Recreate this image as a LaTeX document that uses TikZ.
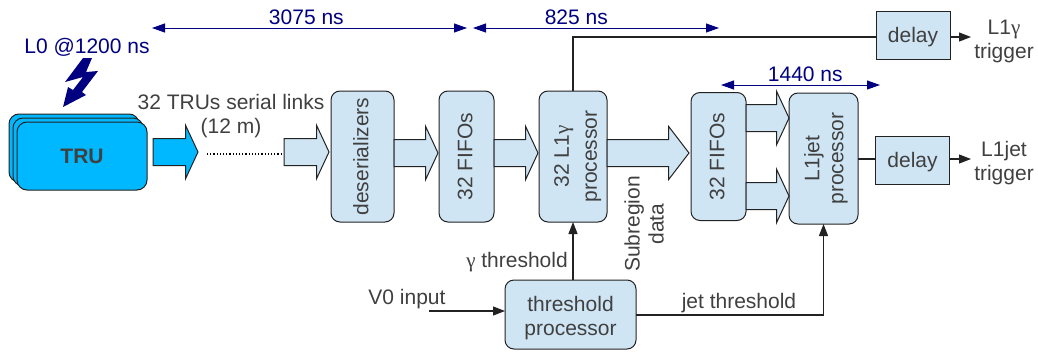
\documentclass[tikz,border=0pt]{standalone}
\usepackage{fontspec}
\setmainfont{Liberation Sans}
\newfontfamily\gammafont{Liberation Serif}
\usepackage{xcolor}
\usetikzlibrary{arrows.meta,positioning,shapes.arrows,calc}
\definecolor{boxblue}{HTML}{CFE5F4}
\definecolor{trublue}{HTML}{00B8FF}
\definecolor{timeblue}{HTML}{000080}
\definecolor{labelgray}{HTML}{404040}
\definecolor{edgegray}{HTML}{222222}
\newcommand{\vlabel}[1]{\rotatebox{90}{\begin{tabular}{@{}c@{}}#1\end{tabular}}}
\newcommand{\gam}{{\gammafont γ}}

\begin{document}
\begin{tikzpicture}[x=1pt, y=-1pt, >={Triangle[length=12pt,width=9pt]},
    font=\fontsize{21}{24}\selectfont, text=labelgray, align=center,
    block/.style={rectangle, rounded corners=9pt, draw=edgegray, line width=1pt, fill=boxblue,
        inner sep=0pt, outer sep=0pt},
    delaybox/.style={rectangle, draw=edgegray, line width=1pt, fill=boxblue, inner sep=0pt,
        outer sep=0pt, minimum width=74pt, minimum height=48pt},
    trubox/.style={rectangle, rounded corners=10pt, draw=edgegray, line width=1pt, fill=trublue,
        inner sep=0pt, outer sep=0pt, minimum width=130pt, minimum height=68pt},
    bus/.style={single arrow, draw=edgegray, line width=1pt, fill=boxblue, inner xsep=0pt, inner ysep=13pt,
        outer sep=0pt, single arrow head extend=13pt, single arrow head indent=0pt,
        single arrow tip angle=130},
    wire/.style={->, draw=edgegray, line width=1.2pt},
    timing/.style={<->, draw=timeblue, line width=1pt,
        >={Triangle[length=13pt,width=9pt]}},
    timetext/.style={text=timeblue, inner sep=3pt}]
    \useasboundingbox (0,0) rectangle (1038,351);

    % TRU stack
    \node[trubox] (tru3) at (74,148) {};
    \node[trubox] (tru2) at ($(tru3)+(4,4)$) {};
    \node[trubox] (tru1) at ($(tru2)+(4,4)$) {\textbf{TRU}};
    \node[bus, fill=trublue, minimum height=45pt, right=6pt of tru1, yshift=4pt] (link) {};
    \node[bus, minimum height=45pt, anchor=west] (linkend) at (284,152) {};
    \coordinate (dotsa) at (207,154);
    \coordinate (dotsb) at (281,154);
    \draw[dotted, line width=1.2pt, draw=black] (dotsa) -- (dotsb);
    \node (links) at (231,116) {32 TRUs serial links\\(12 m)};

    % L0 bolt
    \node[text=timeblue] (lzero) at (87,47) {L0 @1200 ns};
    \fill[timeblue] (83,58) -- (92,58) -- (86,72) -- (98,71) -- (82,92) -- (86,95)
        -- (63,107) -- (68,87) -- (73,90) -- (83,77) -- (65,82) -- cycle;

    % main row
    \node[block, minimum width=63pt, minimum height=131pt, anchor=west] (des) at (331,156.5) {\hspace{2pt}\vlabel{deserializers}};
    \node[block, minimum width=55pt, minimum height=131pt, right=45pt of des] (fifoa) {\hspace{2pt}\vlabel{32 FIFOs}};
    \node[block, minimum width=68pt, minimum height=131pt, right=45pt of fifoa] (gam) {\hspace{10pt}\vlabel{32 L1\gam\\[4pt]processor}};
    \node[block, minimum width=55pt, minimum height=128pt, right=84pt of gam] (fifob) {\hspace{2pt}\vlabel{32 FIFOs}};
    \node[block, minimum width=69pt, minimum height=131pt, anchor=west] (jet) at (789,158.5) {\hspace{6pt}\vlabel{L1jet\\processor}};
    \node[block, minimum width=131pt, minimum height=69pt] (thr) at (570.5,314.5) {\rule{0pt}{22pt}threshold\\processor};

    \node[bus, minimum height=44pt, right=0pt of des, yshift=3.5pt] (busa) {};
    \node[bus, minimum height=44pt, right=0pt of fifoa, yshift=3.5pt] (busb) {};
    \node[bus, minimum height=82pt, single arrow tip angle=105, right=0pt of gam, yshift=3.5pt] (busc) {};
    \node[bus, minimum height=43pt, anchor=west] (busd) at (746,118) {};
    \node[bus, minimum height=43pt, anchor=west] (buse) at (746,196) {};

    % delays and triggers
    \node[delaybox] (delaya) at (913,35) {\rule{0pt}{19pt}delay};
    \node[delaybox] (delayb) at (912.5,160) {\rule{0pt}{19pt}delay};
    \coordinate (outa) at (971,37);
    \coordinate (outb) at (971,159);
    \coordinate (turn) at (gam.north |- outa);
    \draw[draw=edgegray, line width=1.2pt] (gam.north) -- (turn) -- (delaya.west |- outa);
    \draw[draw=edgegray, line width=1.2pt] (jet.east |- outb) -- (delayb.west |- outb);
    \draw[wire] (delaya.east |- outa) -- (outa);
    \draw[wire] (delayb.east |- outb) -- (outb);
    \node (triga) at (1004,41) {L1\gam\\trigger};
    \node (trigb) at (1004,163) {L1jet\\trigger};

    % thresholds
    \coordinate (vzero) at (429,311);
    \draw[wire] (vzero) -- (thr.west |- vzero);
    \node (vlabel) at (407,299) {V0 input};
    \draw[wire] (gam.south |- thr.north) -- (gam.south);
    \node (gamthr) at (517,262) {\gam\ threshold};
    \coordinate (jetin) at (jet.south |- 0,315);
    \draw[wire] (thr.east |- jetin) -- (jetin) -- (jet.south);
    \node (jetthr) at (739,303) {jet threshold};
    \node[rotate=90] (sub) at (644,224) {Subregion\\data};

    % timing
    \coordinate (ta) at (152,28);
    \coordinate (tb) at (467,28);
    \coordinate (tc) at (473,28);
    \coordinate (td) at (719,28);
    \coordinate (te) at (721,85);
    \coordinate (tf) at (880,85);
    \draw[timing] (ta) -- node[timetext, above, pos=.49] (tlong) {3075 ns} (tb);
    \draw[timing] (tc) -- node[timetext, above, pos=.42] (tmid) {825 ns} (td);
    \draw[timing] (te) -- node[timetext, above, pos=.53] (tjet) {1440 ns} (tf);
\end{tikzpicture}
\end{document}
